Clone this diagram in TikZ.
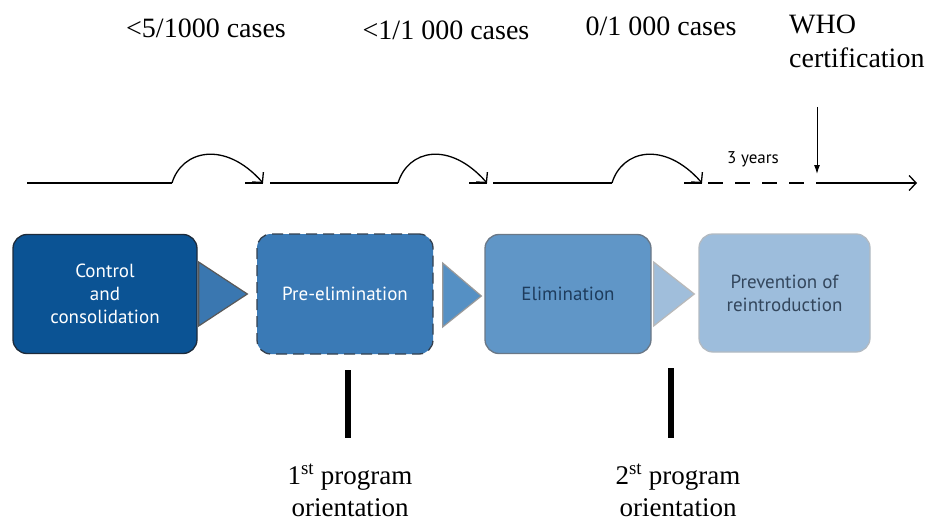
\documentclass[tikz,border=0pt]{standalone}
\usepackage{fontspec}
\setmainfont{Liberation Serif}
\newfontfamily\phasefont{PT Sans}
\usetikzlibrary{arrows.meta,positioning,calc}

\definecolor{ctrlfill}{HTML}{0B5394}
\definecolor{ctrldraw}{HTML}{1D2B3B}
\definecolor{prefill}{HTML}{3A7AB6}
\definecolor{predraw}{HTML}{34404E}
\definecolor{elimfill}{HTML}{6096C7}
\definecolor{elimdraw}{HTML}{6A7887}
\definecolor{elimtext}{HTML}{1E3C5D}
\definecolor{prevfill}{HTML}{9DBDDC}
\definecolor{prevdraw}{HTML}{B2BAC2}
\definecolor{prevtext}{HTML}{33465C}
\definecolor{trione}{HTML}{3A77B0}
\definecolor{tritwo}{HTML}{5590C4}
\definecolor{trithree}{HTML}{A0BEDB}

\begin{document}
\begin{tikzpicture}[x=1pt,y=-1pt,>=Latex,
  phase/.style={draw,rounded corners=14pt,line width=1.3pt,align=center,inner sep=0pt,
    font=\phasefont\fontsize{19}{23}\selectfont},
  tri/.style={line width=1.2pt},
  rate/.style={font=\fontsize{28}{33}\selectfont,anchor=base,inner sep=0pt},
  orient/.style={font=\fontsize{27}{32}\selectfont,align=center,anchor=base,inner sep=0pt},
  line/.style={line width=1.3pt},
  hop/.style={line width=1.3pt,-{Straight Barb[length=7pt,width=15pt]}},
  bar/.style={line width=6pt}]
\useasboundingbox (0,0) rectangle (927,527);

% phases
\node[phase,fill=ctrlfill,draw=ctrldraw,text=white,minimum width=184pt,minimum height=119pt] (ctrl) at (105,294) {Control\\and\\consolidation};
\node[phase,fill=prefill,draw=predraw,dashed,dash pattern=on 11pt off 6pt,text=white,minimum width=176pt,minimum height=120pt] (pre) at (345,294) {Pre-elimination};
\node[phase,fill=elimfill,draw=elimdraw,text=elimtext,minimum width=166pt,minimum height=119pt] (elim) at (568,294) {Elimination};
\node[phase,fill=prevfill,draw=prevdraw,text=prevtext,minimum width=171pt,minimum height=118pt] (prev) at (784.5,293) {Prevention of\\reintroduction};

% triangles between phases
\draw[tri,fill=trione,draw=gray!70!black] ($(ctrl.east)+(1,-32)$) -- ($(pre.west)+(-9,0)$) -- ($(ctrl.east)+(1,32)$) -- cycle;
\draw[tri,fill=tritwo,draw=gray!80] ($(pre.east)+(9,-31)$) -- ($(elim.west)+(-3,2)$) -- ($(pre.east)+(9,33)$) -- cycle;
\draw[tri,fill=trithree,draw=gray!55] ($(elim.east)+(2,-32)$) -- ($(prev.west)+(-4,1)$) -- ($(elim.east)+(2,32)$) -- cycle;

% time line
\coordinate (s1) at (27,183);  \coordinate (h1) at (172,183); \coordinate (e1) at (263,183);
\coordinate (s2) at (270,183); \coordinate (h2) at (398,183); \coordinate (e2) at (487,183);
\coordinate (s3) at (493,183); \coordinate (h3) at (612,183); \coordinate (e3) at (702,183);
\coordinate (d0) at (708,183); \coordinate (who) at (818,183); \coordinate (tend) at (917,183);

\draw[line] (s1) -- (h1);
\draw[hop] (h1) .. controls +(10,-33) and +(-38,-43) .. (e1);
\draw[line] ($(e1)+(-18,0)$) -- (e1);
\draw[line] (s2) -- (h2);
\draw[hop] (h2) .. controls +(10,-33) and +(-38,-43) .. (e2);
\draw[line] ($(e2)+(-18,0)$) -- (e2);
\draw[line] (s3) -- (h3);
\draw[hop] (h3) .. controls +(10,-33) and +(-38,-43) .. (e3);
\draw[line] ($(e3)+(-18,0)$) -- (e3);
\draw[line,dash pattern=on 15pt off 12pt] (d0) -- (who);
\draw[hop] (who) -- (tend);

\node[font=\phasefont\fontsize{17}{20}\selectfont] (years) at (753,159) {3 years};

% case rates
\node[rate] (r1) at (206,38) {<5/1000 cases};
\node[rate] (r2) at (446,40) {<1/1 000 cases};
\node[rate] (r3) at (661,36) {0/1 000 cases};
\node[font=\fontsize{28}{35}\selectfont,align=left,anchor=base west,inner sep=0pt] (cert) at (789,68) {WHO\\certification};
\coordinate (certtop) at (817,107);
\draw[line width=1pt,-{Latex[length=9pt,width=6pt]}] (certtop) -- ($(who)+(-1,-9)$);

% program orientations
\coordinate (b1top) at (348,370); \coordinate (b1bot) at (348,438);
\coordinate (b2top) at (671,368); \coordinate (b2bot) at (671,438);
\draw[bar] (b1top) -- (b1bot);
\draw[bar] (b2top) -- (b2bot);
\node[orient] (o1) at (350,516) {1\textsuperscript{st} program\\orientation};
\node[orient] (o2) at (678,516) {2\textsuperscript{st} program\\orientation};
\end{tikzpicture}
\end{document}
